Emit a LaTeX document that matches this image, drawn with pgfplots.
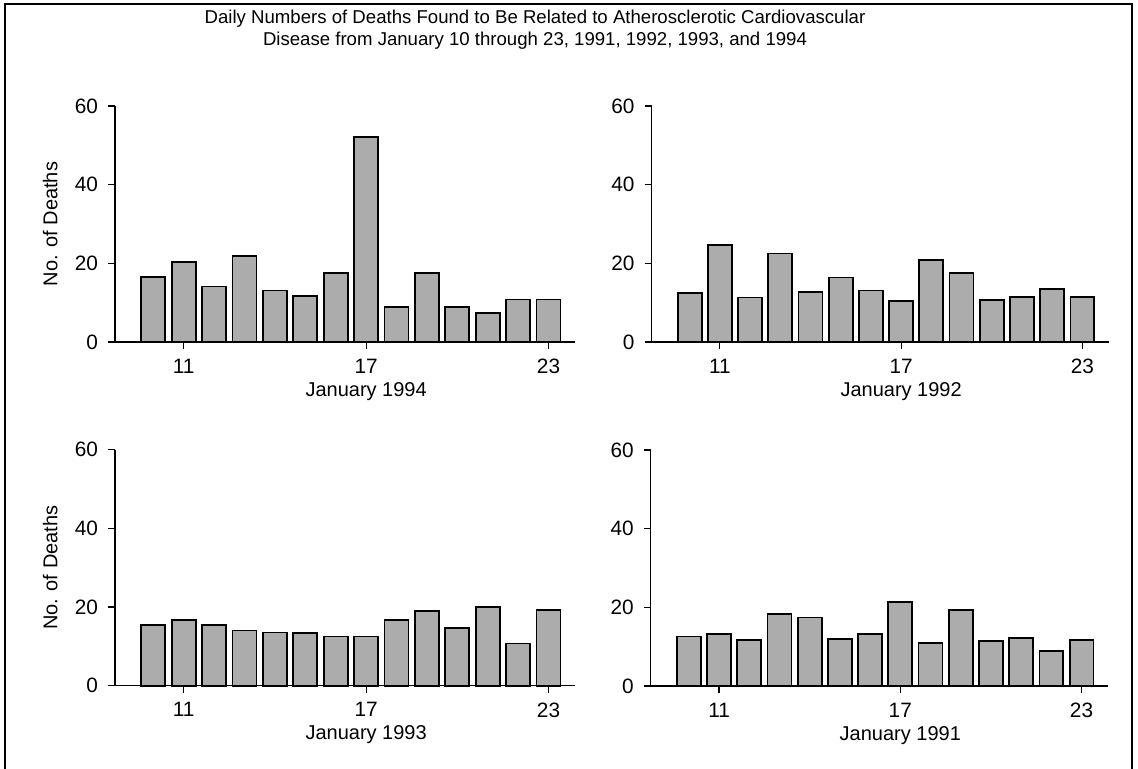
\documentclass[border=0pt]{standalone}
\usepackage{pgfplots}
\pgfplotsset{compat=1.18}
\usepackage{fontspec}
\setmainfont{Liberation Sans}

\definecolor{barfill}{RGB}{172,172,172}

% daily deaths, January 10--23
\pgfplotstableread{
day deaths
10 16.5
11 20.4
12 14.1
13 21.8
14 13.1
15 11.7
16 17.6
17 52.1
18 9.0
19 17.5
20 9.0
21 7.3
22 10.8
23 10.8
}\yearninetyfour
\pgfplotstableread{
day deaths
10 12.5
11 24.7
12 11.3
13 22.5
14 12.7
15 16.4
16 13.1
17 10.4
18 20.8
19 17.5
20 10.6
21 11.4
22 13.5
23 11.4
}\yearninetytwo
\pgfplotstableread{
day deaths
10 15.4
11 16.6
12 15.4
13 14.0
14 13.5
15 13.4
16 12.5
17 12.5
18 16.6
19 19.0
20 14.7
21 19.9
22 10.7
23 19.2
}\yearninetythree
\pgfplotstableread{
day deaths
10 12.6
11 13.2
12 11.8
13 18.4
14 17.4
15 12.0
16 13.3
17 21.3
18 10.9
19 19.3
20 11.5
21 12.3
22 8.9
23 11.8
}\yearninetyone

\pgfplotsset{
  deathpanel/.style={
    scale only axis,
    width=230pt, height=118pt,
    anchor=origin,
    xmin=8.74, xmax=23.87,
    ymin=0, ymax=60,
    axis x line=bottom, axis y line=left,
    axis line style={line width=0.6pt, -},
    xtick={11,17,23}, ytick={0,20,40,60},
    tick align=outside,
    major tick length=3.5pt,
    tick style={line width=0.6pt, black},
    /pgf/number format/assume math mode=true,
    tick label style={font=\fontsize{10.4}{12.4}\selectfont},
    xticklabel style={yshift=-1.5pt},
    yticklabel style={xshift=-1.5pt},
    label style={font=\fontsize{9.8}{11.8}\selectfont},
    every axis x label/.style={at={(axis description cs:0.546,0)}, anchor=center, yshift=-24.7pt},
    every axis y label/.style={at={(axis description cs:-0.141,0.5)}, anchor=center, rotate=90},
    clip=false,
  },
  deathbars/.style={
    ybar, bar width=0.79, bar shift=0pt,
    fill=barfill, draw=black, line width=0.9pt,
  },
}

\begin{document}
\begin{tikzpicture}[x=1pt,y=1pt]
\useasboundingbox (0,0) rectangle (569,384);
% outer frame
\draw[line width=0.8pt] (2.5,-2) -- (2.5,382) -- (566,382) -- (566,-2);
% title
\node[align=center, font=\fontsize{9.3}{11}\selectfont] at (267.5,369)
  {Daily Numbers of Deaths Found to Be Related to Atherosclerotic Cardiovascular\\
   Disease from January 10 through 23, 1991, 1992, 1993, and 1994};

\begin{axis}[deathpanel, at={(57.5pt,213pt)}, xlabel={January 1994}, ylabel={No. of Deaths}]
  \addplot[deathbars] table[x=day, y=deaths] {\yearninetyfour};
\end{axis}

\begin{axis}[deathpanel, at={(325.8pt,213pt)}, width=228.5pt, xlabel={January 1992}]
  \addplot[deathbars] table[x=day, y=deaths] {\yearninetytwo};
\end{axis}

\begin{axis}[deathpanel, at={(57.5pt,41.2pt)}, xlabel={January 1993}, ylabel={No. of Deaths}]
  \addplot[deathbars] table[x=day, y=deaths] {\yearninetythree};
\end{axis}

\begin{axis}[deathpanel, at={(325.4pt,41pt)}, width=228.5pt, xlabel={January 1991}]
  \addplot[deathbars] table[x=day, y=deaths] {\yearninetyone};
\end{axis}
\end{tikzpicture}
\end{document}
